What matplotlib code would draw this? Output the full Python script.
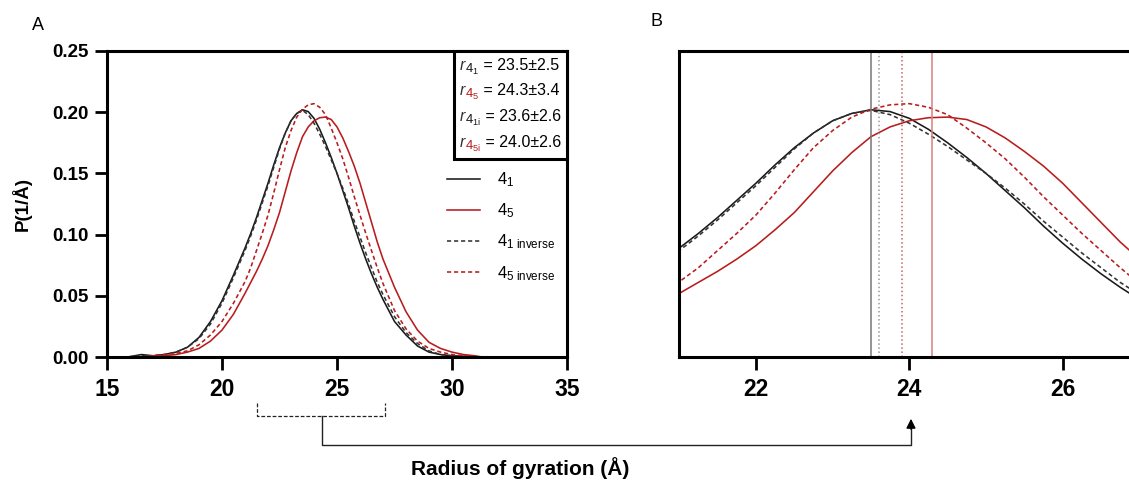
import matplotlib
matplotlib.use("Agg")
import matplotlib.pyplot as plt
from matplotlib.ticker import FormatStrFormatter
from matplotlib.offsetbox import TextArea, HPacker, VPacker, AnchoredOffsetbox

plt.rcParams['font.family'] = ['Liberation Sans', 'DejaVu Sans']
plt.rcParams['mathtext.fontset'] = 'custom'
plt.rcParams['mathtext.rm'] = 'Liberation Sans'
plt.rcParams['mathtext.it'] = 'Liberation Sans:italic'
plt.rcParams['mathtext.bf'] = 'Liberation Sans:bold'

# radius of gyration grid (A) and probability densities
rg = [15.9, 16.5, 17.0, 17.5, 18.0, 18.5, 19.0, 19.5, 20.0, 20.5,
      21.0, 21.25, 21.5, 21.75, 22.0, 22.25, 22.5, 22.75, 23.0, 23.25,
      23.5, 23.75, 24.0, 24.25, 24.5, 24.75, 25.0, 25.25, 25.5, 25.75,
      26.0, 26.25, 26.5, 26.75, 27.0,
      27.5, 28.0, 28.5, 29.0, 29.5, 30.0, 30.5, 31.0, 31.3]

p_41 = [0.000, 0.002, 0.001, 0.002, 0.004, 0.008, 0.016, 0.029, 0.046, 0.067,
        0.089, 0.101, 0.114, 0.128, 0.142, 0.157, 0.171, 0.183, 0.193, 0.199,
        0.202, 0.2005, 0.195, 0.186, 0.175, 0.163, 0.150, 0.136, 0.122, 0.107,
        0.093, 0.080, 0.068, 0.057, 0.047,
        0.029, 0.018, 0.009, 0.004, 0.002, 0.001, 0.0005, 0.000, 0.000]

p_45 = [0.000, 0.000, 0.001, 0.001, 0.002, 0.004, 0.007, 0.013, 0.022, 0.035,
        0.052, 0.061, 0.070, 0.080, 0.091, 0.104, 0.118, 0.135, 0.152, 0.167,
        0.180, 0.188, 0.193, 0.1955, 0.196, 0.194, 0.188, 0.179, 0.168, 0.156,
        0.142, 0.126, 0.110, 0.094, 0.080,
        0.057, 0.037, 0.022, 0.012, 0.007, 0.004, 0.002, 0.001, 0.000]

p_41i = [0.000, 0.001, 0.001, 0.002, 0.004, 0.008, 0.015, 0.027, 0.044, 0.065,
         0.087, 0.099, 0.112, 0.126, 0.140, 0.155, 0.170, 0.183, 0.193, 0.199,
         0.2015, 0.198, 0.191, 0.182, 0.172, 0.161, 0.150, 0.138, 0.125, 0.111,
         0.098, 0.085, 0.073, 0.061, 0.051,
         0.033, 0.020, 0.011, 0.005, 0.002, 0.001, 0.0005, 0.000, 0.000]

p_45i = [0.000, 0.000, 0.001, 0.002, 0.003, 0.005, 0.010, 0.018, 0.029, 0.044,
         0.0615, 0.073, 0.087, 0.101, 0.116, 0.134, 0.153, 0.171, 0.185, 0.196,
         0.2025, 0.206, 0.207, 0.204, 0.198, 0.187, 0.175, 0.162, 0.147, 0.131,
         0.116, 0.101, 0.087, 0.073, 0.060,
         0.038, 0.023, 0.013, 0.007, 0.004, 0.002, 0.001, 0.000, 0.000]

labels = [r'$4_1$', r'$4_5$', r'$4_{1\ \mathrm{inverse}}$', r'$4_{5\ \mathrm{inverse}}$']
stat_subs = [r'$_{4_{1}}$', r'$_{4_{5}}$', r'$_{4_{1\mathrm{i}}}$', r'$_{4_{5\mathrm{i}}}$']
stat_mean = ['23.5', '24.3', '23.6', '24.0']
stat_sd = ['2.5', '3.4', '2.6', '2.6']
peak_lines = [23.5, 24.3, 23.6, 23.9]   # vertical markers in panel B

BLACK = '#1a1a1a'
RED = '#b81c1c'
curves = [p_41, p_45, p_41i, p_45i]
colors = [BLACK, RED, '#333333', RED]
styles = ['-', '-', (0, (2.6, 1.8)), (0, (2.6, 1.8))]
vcolors = ['#777777', '#d98080', '#999999', '#d06060']
vstyles = ['-', '-', ':', ':']

W, H = 1129, 484
fig = plt.figure(figsize=(W / 100, H / 100), dpi=100)
axA = fig.add_axes([107 / W, 127 / H, 460 / W, 306 / H])
axB = fig.add_axes([679.3 / W, 127 / H, 460 / W, 306 / H])

for ax in (axA, axB):
    for y, c, ls in zip(curves, colors, styles):
        ax.plot(rg, y, color=c, ls=ls, lw=1.15)
    for s in ax.spines.values():
        s.set_linewidth(2.2)
    ax.set_ylim(0, 0.25)
    ax.tick_params(direction='out', length=9, width=2, pad=4)

# panel A
axA.set_xlim(15, 35)
axA.set_xticks([15, 20, 25, 30, 35])
axA.set_yticks([0, 0.05, 0.10, 0.15, 0.20, 0.25])
axA.yaxis.set_major_formatter(FormatStrFormatter('%.2f'))
for t in axA.get_xticklabels():
    t.set_fontsize(16.5)
    t.set_fontweight('bold')
for t in axA.get_yticklabels():
    t.set_fontsize(13.5)
    t.set_fontweight('bold')
axA.tick_params(axis='x', pad=6)
axA.set_ylabel('P(1/Å)', fontsize=13.5, fontweight='bold', labelpad=15)

leg = axA.legend(axA.get_lines()[:4], labels, loc='upper left',
                 bbox_to_anchor=(0.739, 0.61), frameon=False, fontsize=12,
                 handlelength=2.0, handletextpad=1.0, labelspacing=0.75,
                 borderpad=0, borderaxespad=0)

rows = []
for sub, c, m, sd in zip(stat_subs, [BLACK, RED, BLACK, RED], stat_mean, stat_sd):
    r = TextArea(r'$r$', textprops=dict(size=11.5, color='#333333'))
    s = TextArea(sub, textprops=dict(size=13.5, color=c))
    v = TextArea(' = %s±%s' % (m, sd), textprops=dict(size=11.5, color='black'))
    rs = HPacker(children=[r, s], align='baseline', pad=0, sep=-1.5)
    rows.append(HPacker(children=[rs, v], align='baseline', pad=0, sep=0))
box = AnchoredOffsetbox(loc='upper right', child=VPacker(children=rows, align='left', pad=0, sep=4),
                        pad=0.4, borderpad=0, frameon=True)
box.patch.set_linewidth(2.2)
box.patch.set_edgecolor('black')
axA.add_artist(box)

# panel B
axB.set_xlim(21, 27)
axB.set_xticks([22, 24, 26])
for t in axB.get_xticklabels():
    t.set_fontsize(16.5)
    t.set_fontweight('bold')
axB.tick_params(axis='x', pad=6)
axB.set_yticks([])
for x, c, ls in zip(peak_lines, vcolors, vstyles):
    axB.axvline(x, color=c, ls=ls, lw=1.1)

fig.text(38 / W, 1 - 25 / H, 'A', fontsize=13, va='center', ha='center')
fig.text(656 / W, 1 - 22 / H, 'B', fontsize=13, va='center', ha='center')
fig.text(520 / W, 1 - 468 / H, 'Radius of gyration (Å)', fontsize=15, fontweight='bold',
         ha='center', va='center')

# zoom bracket and arrow (pixel overlay)
ov = fig.add_axes([0, 0, 1, 1])
ov.set_xlim(0, W)
ov.set_ylim(H, 0)
ov.axis('off')
ov.plot([257, 257, 385, 385], [403, 416, 416, 403], color='#222222', lw=0.9, ls=(0, (3, 1.5)))
ov.plot([322, 322, 911, 911], [416, 445, 445, 428], color='#222222', lw=1.0)
ov.annotate('', xy=(911, 416), xytext=(911, 432),
            arrowprops=dict(arrowstyle='-|>', color='black', lw=1.0, mutation_scale=14))

fig.savefig('out.png', dpi=100)
